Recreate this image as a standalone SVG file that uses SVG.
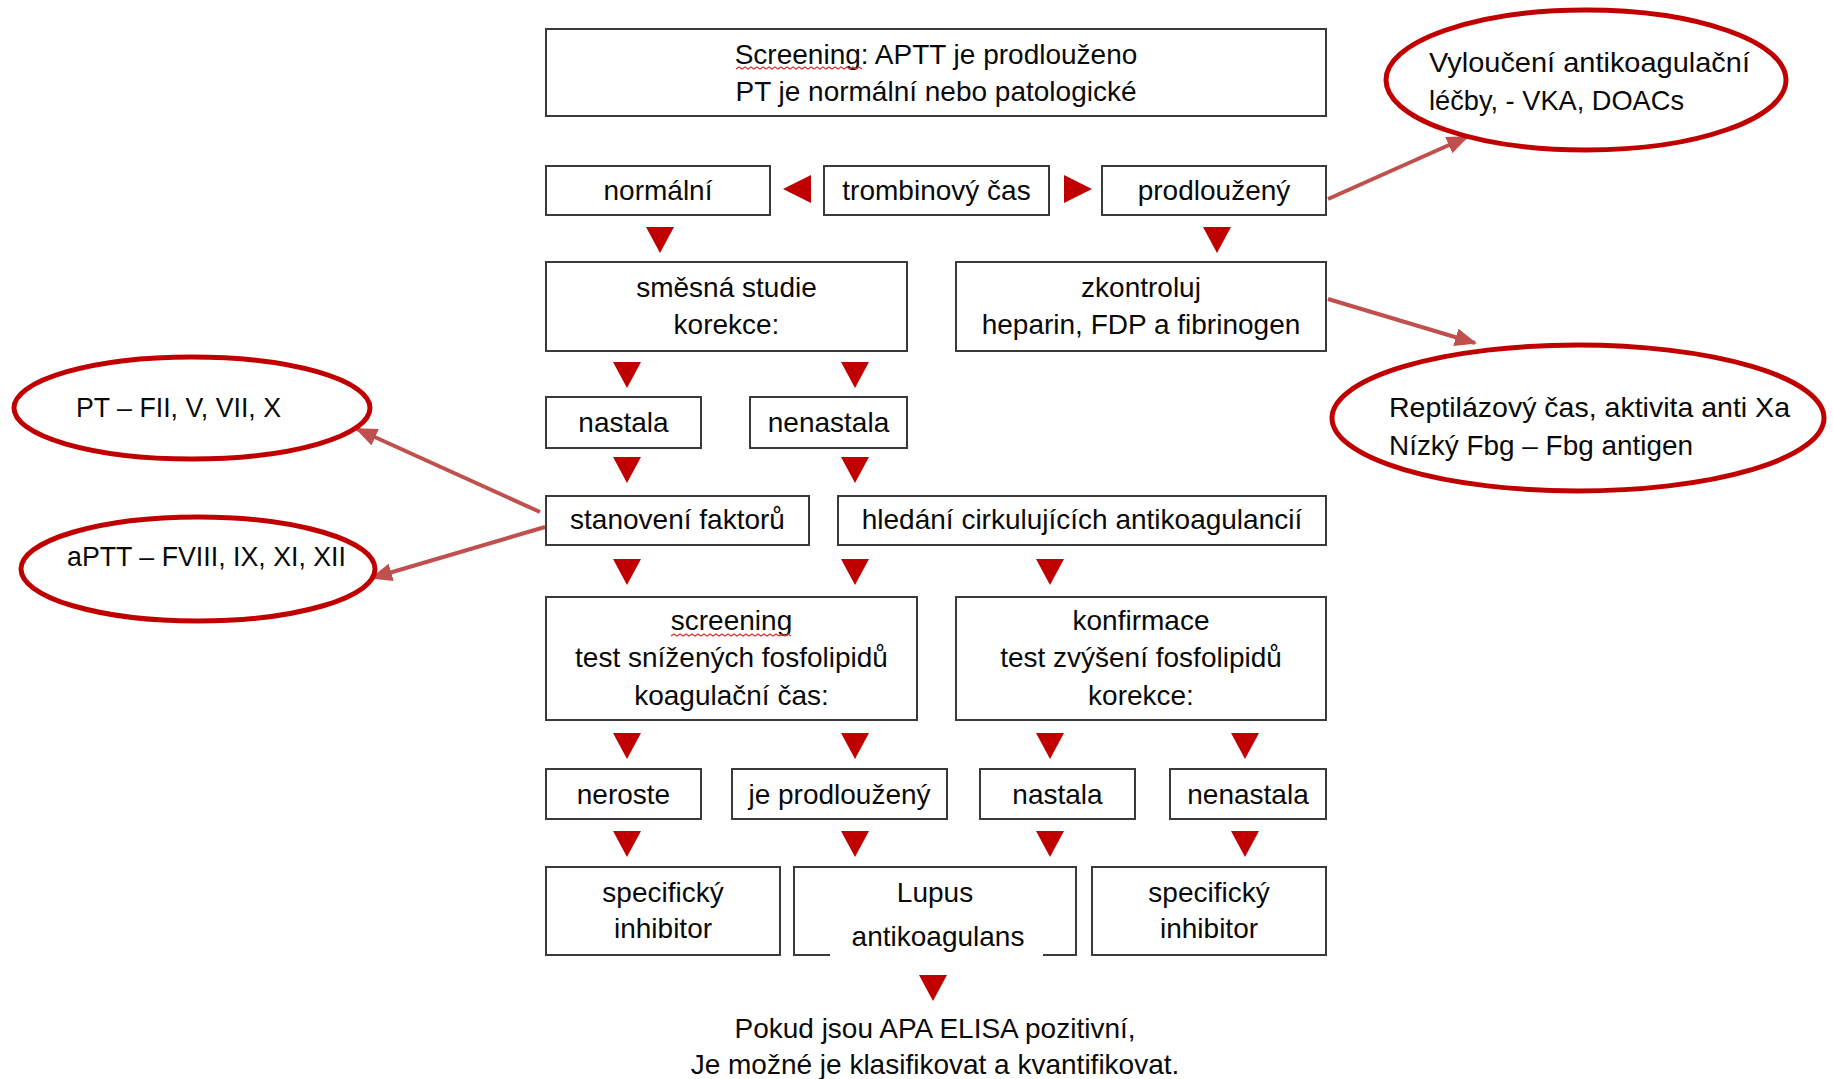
<svg xmlns="http://www.w3.org/2000/svg" width="1833" height="1079" viewBox="0 0 1833 1079">
<defs>
<style>
.box{fill:#fff;stroke:#3a3a3a;stroke-width:2}
.t{font-family:"Liberation Sans",Arial,sans-serif;font-size:28px;fill:#0a0a0a;text-anchor:middle}
.et{font-family:"Liberation Sans",Arial,sans-serif;font-size:28px;fill:#0a0a0a}
.ell{fill:#fff;stroke:#c00000;stroke-width:5}
.tri{fill:#c00000}
.conn{stroke:#c0504d;stroke-width:4;fill:none}
.wavy{fill:none;stroke:#e03030;stroke-width:1.2}
</style>
<path id="down" d="M-14,0 L14,0 L0,26 Z"/>
<marker id="ah" markerUnits="userSpaceOnUse" markerWidth="24" markerHeight="20" refX="20" refY="9" orient="auto">
<path d="M0,0 L22,9 L0,18 Z" fill="#c0504d"/>
</marker>
</defs>
<rect width="1833" height="1079" fill="#fff"/>

<g id="connectors">
<line class="conn" x1="1328" y1="199" x2="1467" y2="137" marker-end="url(#ah)"/>
<line class="conn" x1="1328" y1="299" x2="1475" y2="343" marker-end="url(#ah)"/>
<line class="conn" x1="540" y1="512" x2="357" y2="429" marker-end="url(#ah)"/>
<line class="conn" x1="545" y1="527" x2="372" y2="578" marker-end="url(#ah)"/>
<path class="tri" d="M811,175 L811,203 L783,189 Z"/>
<path class="tri" d="M1064,175 L1064,203 L1092,189 Z"/>
<use href="#down" class="tri" x="660" y="227"/>
<use href="#down" class="tri" x="1217" y="227"/>
<use href="#down" class="tri" x="627" y="362"/>
<use href="#down" class="tri" x="855" y="362"/>
<use href="#down" class="tri" x="627" y="457"/>
<use href="#down" class="tri" x="855" y="457"/>
<use href="#down" class="tri" x="627" y="559"/>
<use href="#down" class="tri" x="855" y="559"/>
<use href="#down" class="tri" x="1050" y="559"/>
<use href="#down" class="tri" x="627" y="733"/>
<use href="#down" class="tri" x="855" y="733"/>
<use href="#down" class="tri" x="1050" y="733"/>
<use href="#down" class="tri" x="1245" y="733"/>
<use href="#down" class="tri" x="627" y="831"/>
<use href="#down" class="tri" x="855" y="831"/>
<use href="#down" class="tri" x="1050" y="831"/>
<use href="#down" class="tri" x="1245" y="831"/>
<use href="#down" class="tri" x="933" y="975"/>
</g>

<g id="n-screening-top">
<rect class="box" x="546" y="29" width="780" height="87"/>
<text class="t" x="936" y="64">Screening: APTT je prodlouženo</text>
<text class="t" x="936" y="101">PT je normální nebo patologické</text>
<path class="wavy" d="M736,69 l3,-2 l3,2 l3,-2 l3,2 l3,-2 l3,2 l3,-2 l3,2 l3,-2 l3,2 l3,-2 l3,2 l3,-2 l3,2 l3,-2 l3,2 l3,-2 l3,2 l3,-2 l3,2 l3,-2 l3,2 l3,-2 l3,2 l3,-2 l3,2 l3,-2 l3,2 l3,-2 l3,2 l3,-2 l3,2 l3,-2 l3,2 l3,-2 l3,2 l3,-2 l3,2 l3,-2 l3,2 l3,-2 l3,2"/>
</g>

<g id="n-normalni">
<rect class="box" x="546" y="166" width="224" height="49"/>
<text class="t" x="658" y="200">normální</text>
</g>
<g id="n-trombinovy">
<rect class="box" x="824" y="166" width="225" height="49"/>
<text class="t" x="936.5" y="200">trombinový čas</text>
</g>
<g id="n-prodlouzeny">
<rect class="box" x="1102" y="166" width="224" height="49"/>
<text class="t" x="1214" y="200">prodloužený</text>
</g>

<g id="n-smesna">
<rect class="box" x="546" y="262" width="361" height="89"/>
<text class="t" x="726.5" y="297">směsná studie</text>
<text class="t" x="726.5" y="334">korekce:</text>
</g>
<g id="n-zkontroluj">
<rect class="box" x="956" y="262" width="370" height="89"/>
<text class="t" x="1141" y="297">zkontroluj</text>
<text class="t" x="1141" y="334">heparin,  FDP a fibrinogen</text>
</g>

<g id="n-nastala1">
<rect class="box" x="546" y="397" width="155" height="51"/>
<text class="t" x="623.5" y="432">nastala</text>
</g>
<g id="n-nenastala1">
<rect class="box" x="750" y="397" width="157" height="51"/>
<text class="t" x="828.5" y="432">nenastala</text>
</g>

<g id="n-stanoveni">
<rect class="box" x="546" y="496" width="263" height="49"/>
<text class="t" x="677.5" y="529">stanovení faktorů</text>
</g>
<g id="n-hledani">
<rect class="box" x="838" y="496" width="488" height="49"/>
<text class="t" x="1082" y="529">hledání  cirkulujících antikoagulancií</text>
</g>

<g id="n-screening">
<rect class="box" x="546" y="597" width="371" height="123"/>
<text class="t" x="731.5" y="630">screening</text>
<path class="wavy" d="M671,636 l3,-2 l3,2 l3,-2 l3,2 l3,-2 l3,2 l3,-2 l3,2 l3,-2 l3,2 l3,-2 l3,2 l3,-2 l3,2 l3,-2 l3,2 l3,-2 l3,2 l3,-2 l3,2 l3,-2 l3,2 l3,-2 l3,2 l3,-2 l3,2 l3,-2 l3,2 l3,-2 l3,2 l3,-2 l3,2 l3,-2 l3,2 l3,-2 l3,2 l3,-2 l3,2 l3,-2 l3,2"/>
<text class="t" x="731.5" y="667">test snížených fosfolipidů</text>
<text class="t" x="731.5" y="705">koagulační čas:</text>
</g>
<g id="n-konfirmace">
<rect class="box" x="956" y="597" width="370" height="123"/>
<text class="t" x="1141" y="630">konfirmace</text>
<text class="t" x="1141" y="667">test zvýšení fosfolipidů</text>
<text class="t" x="1141" y="705">korekce:</text>
</g>

<g id="n-neroste">
<rect class="box" x="546" y="769" width="155" height="50"/>
<text class="t" x="623.5" y="804">neroste</text>
</g>
<g id="n-jeprodlouzeny">
<rect class="box" x="732" y="769" width="215" height="50"/>
<text class="t" x="839.5" y="804">je prodloužený</text>
</g>
<g id="n-nastala2">
<rect class="box" x="980" y="769" width="155" height="50"/>
<text class="t" x="1057.5" y="804">nastala</text>
</g>
<g id="n-nenastala2">
<rect class="box" x="1170" y="769" width="156" height="50"/>
<text class="t" x="1248" y="804">nenastala</text>
</g>

<g id="n-specificky1">
<rect class="box" x="546" y="867" width="234" height="88"/>
<text class="t" x="663" y="902">specifický</text>
<text class="t" x="663" y="938">inhibitor</text>
</g>
<g id="n-lupus">
<path class="box" fill="none" d="M830,955 H794 V867 H1076 V955 H1043"/>
<text class="t" x="935" y="902">Lupus</text>
<text class="t" x="938" y="946">antikoagulans</text>
</g>
<g id="n-specificky2">
<rect class="box" x="1092" y="867" width="234" height="88"/>
<text class="t" x="1209" y="902">specifický</text>
<text class="t" x="1209" y="938">inhibitor</text>
</g>

<g id="n-bottom">
<text class="t" x="935" y="1038">Pokud jsou APA ELISA pozitivní,</text>
<text class="t" x="935" y="1074">Je možné je klasifikovat a kvantifikovat.</text>
</g>

<g id="n-ell-vka">
<ellipse class="ell" cx="1586" cy="80" rx="200" ry="70"/>
<text class="et" x="1429" y="72" textLength="321" lengthAdjust="spacingAndGlyphs">Vyloučení antikoagulační</text>
<text class="et" x="1429" y="110" textLength="255" lengthAdjust="spacingAndGlyphs">léčby, - VKA, DOACs</text>
</g>
<g id="n-ell-reptilaza">
<ellipse class="ell" cx="1578" cy="418" rx="246" ry="73"/>
<text class="et" x="1389" y="417" textLength="401" lengthAdjust="spacingAndGlyphs">Reptilázový čas, aktivita anti Xa</text>
<text class="et" x="1389" y="455" textLength="304" lengthAdjust="spacingAndGlyphs">Nízký Fbg – Fbg antigen</text>
</g>
<g id="n-ell-pt">
<ellipse class="ell" cx="192" cy="408" rx="178" ry="51"/>
<text class="et" x="76" y="417" textLength="205" lengthAdjust="spacingAndGlyphs">PT – FII, V, VII, X</text>
</g>
<g id="n-ell-aptt">
<ellipse class="ell" cx="198" cy="569" rx="177" ry="52"/>
<text class="et" x="67" y="566" textLength="279" lengthAdjust="spacingAndGlyphs">aPTT – FVIII, IX, XI, XII</text>
</g>
</svg>
